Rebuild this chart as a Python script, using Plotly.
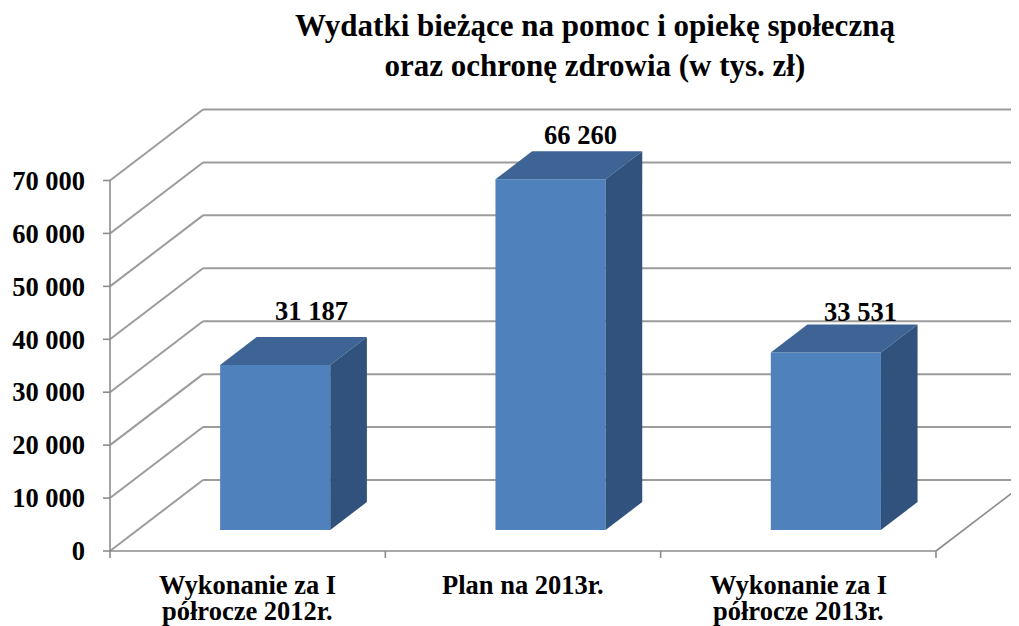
import plotly.graph_objects as go

# ---- data ----
categories = ["Wykonanie za I<br>półrocze 2012r.", "Plan na 2013r.", "Wykonanie za I<br>półrocze 2013r."]
values = [31187, 66260, 33531]
value_labels = ["31 187", "66 260", "33 531"]
y_tickvals = [0, 10000, 20000, 30000, 40000, 50000, 60000, 70000]
y_ticktext = ["0", "10 000", "20 000", "30 000", "40 000", "50 000", "60 000", "70 000"]
title_text = "Wydatki bieżące na pomoc i opiekę społeczną<br>oraz ochronę zdrowia (w tys. zł)"

# ---- styling / geometry (pseudo-3D), in page pixels ----
OFF = 8                # default page body margin
PAGE_W, PAGE_H = 1019, 626
W, H = PAGE_W - OFF, PAGE_H - OFF
PX_X = 275.33          # px per category unit
PX_Y = 0.005293        # px per value unit
X0_PX, Y0_PX = 110, 551
DX = 93 / PX_X         # depth vector (category units)
DY = 71 / PX_Y         # depth vector (value units)
F0, F1 = 0.296, 0.69   # bar front/back depth fractions
BAR_W = 0.4
FRONT, TOP, SIDE = "#4F81BD", "#3D6494", "#31527C"
GRID = "#9c9c9c"
AXIS = "#8c8c8c"
FONT = "Liberation Serif, Times New Roman, serif"
FS = 26.5
LABEL_XSHIFT = [0, -7, -2]    # px nudges of the value labels
LABEL_YSHIFT = [9, -1, -4]

PL, PR, PT, PB = 100, PAGE_W, 95, 565   # plot area in page pixels
ml, mr, mt, mb = PL - OFF, PAGE_W - PR, PT - OFF, PAGE_H - PB
x_range = [-(X0_PX - PL) / PX_X, (PR - X0_PX) / PX_X]
y_range = [-(PB - Y0_PX) / PX_Y, (Y0_PX - PT) / PX_Y]
ncat = len(categories)


def paper_x(px):
    return (px - PL) / (PR - PL)


def paper_y(py):
    return (PB - py) / (PB - PT)


fig = go.Figure()
shapes = []


def seg(x0, y0, x1, y1, color=GRID, width=2):
    shapes.append(dict(type="line", xref="x", yref="y", x0=x0, y0=y0, x1=x1, y1=y1,
                       line=dict(color=color, width=width), layer="below"))


# back wall + left wall gridlines
for v in y_tickvals:
    seg(0, v, DX, v + DY)
    seg(DX, v + DY, ncat + DX + 0.2, v + DY)
# axes
seg(0, 0, 0, y_tickvals[-1], color=AXIS, width=1.6)
seg(0, 0, ncat, 0, color=AXIS, width=1.6)
seg(ncat, 0, ncat + DX, DY, color=AXIS, width=1.6)
for v in y_tickvals:
    seg(-7 / PX_X, v, 0, v, color=AXIS, width=1.6)
for i in range(ncat + 1):
    seg(i, 0, i, -7 / PX_Y, color=AXIS, width=1.6)

# front faces as bars
fig.add_trace(go.Bar(
    x=[i + 0.5 + F0 * DX for i in range(ncat)], y=values, base=F0 * DY,
    width=BAR_W, marker=dict(color=FRONT, line=dict(width=0)), hoverinfo="skip"))

bx, by = (F1 - F0) * DX, (F1 - F0) * DY
for i, v in enumerate(values):
    x0 = i + 0.5 - BAR_W / 2 + F0 * DX
    x1 = x0 + BAR_W
    y0 = F0 * DY
    y1 = v + F0 * DY
    fig.add_trace(go.Scatter(x=[x0, x1, x1 + bx, x0 + bx, x0], y=[y1, y1, y1 + by, y1 + by, y1],
                             fill="toself", fillcolor=TOP, mode="lines", line=dict(width=0, color=TOP),
                             hoverinfo="skip"))
    fig.add_trace(go.Scatter(x=[x1, x1 + bx, x1 + bx, x1, x1], y=[y0, y0 + by, y1 + by, y1, y0],
                             fill="toself", fillcolor=SIDE, mode="lines", line=dict(width=0, color=SIDE),
                             hoverinfo="skip"))

annotations = []
# data labels
for i, v in enumerate(values):
    annotations.append(dict(x=i + 0.5 + F1 * DX, y=v + F1 * DY, xref="x", yref="y",
                            text=value_labels[i], showarrow=False, xanchor="center", yanchor="bottom",
                            xshift=LABEL_XSHIFT[i], yshift=LABEL_YSHIFT[i],
                            font=dict(family=FONT, size=FS, color="black", weight="bold")))

# category labels (two lines each, tighter line spacing than plotly's default)
for i, c in enumerate(categories):
    for j, line in enumerate(c.split("<br>")):
        annotations.append(dict(x=i + 0.5, y=paper_y(568 + j * 26), xref="x", yref="paper",
                                text=line, showarrow=False, xanchor="center", yanchor="top",
                                font=dict(family=FONT, size=FS, color="black", weight="bold")))

# title
annotations.append(dict(x=paper_x(595), y=paper_y(6), xref="paper", yref="paper",
                        text=title_text, showarrow=False, xanchor="center", yanchor="top",
                        font=dict(family=FONT, size=31, color="black", weight="bold")))

fig.update_layout(
    width=W, height=H, showlegend=False,
    plot_bgcolor="white", paper_bgcolor="white",
    margin=dict(l=ml, r=mr, t=mt, b=mb, autoexpand=False),
    shapes=shapes, annotations=annotations,
    xaxis=dict(range=x_range, showgrid=False, zeroline=False, showline=False,
               showticklabels=False, ticks="", automargin=False, fixedrange=True),
    yaxis=dict(range=y_range, showgrid=False, zeroline=False, showline=False,
               tickvals=y_tickvals, ticktext=y_ticktext, ticks="",
               tickfont=dict(family=FONT, size=FS, color="black", weight="bold"),
               ticklabelstandoff=14, automargin=False, fixedrange=True),
)

fig.write_html("out.html", config={"displayModeBar": False})
